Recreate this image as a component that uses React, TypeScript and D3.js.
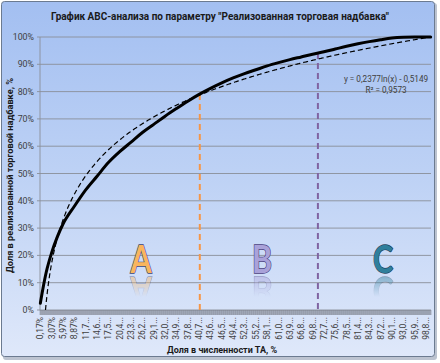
import React from "react";
import * as d3 from "d3";

const W = 440;
const H = 363;

const title = 'График АВС-анализа по параметру "Реализованная торговая надбавка"';
const yTitle = "Доля в реализованной торговой надбавке, %";
const xTitle = "Доля в численности ТА, %";

const nCategories = 586;
const xTickLabels = [
  "0,17%", "3,07%", "5,97%", "8,87%", "11,7...", "14,6...", "17,5...", "20,4...",
  "23,3...", "26,2...", "29,1...", "32,0...", "34,9...", "37,8...", "40,7...", "43,6...",
  "46,5...", "49,4...", "52,3...", "55,2...", "58,1...", "61,0...", "63,9...", "66,8...",
  "69,8...", "72,7...", "75,6...", "78,5...", "81,4...", "84,3...", "87,2...", "90,1...",
  "93,0...", "95,9...", "98,8...",
];
const labelEvery = 17;
const yTicks = [0, 0.1, 0.2, 0.3, 0.4, 0.5, 0.6, 0.7, 0.8, 0.9, 1.0];

// cumulative share at category indices
const curveCats = [1, 5, 10, 18, 26, 35, 52, 69, 86, 103, 120, 137, 154, 171, 188, 205, 222, 239, 256, 273, 290, 307, 324, 341, 358, 375, 392, 409, 426, 443, 460, 477, 494, 511, 528, 545, 562, 579, 586];
const curveShare = [0.025, 0.08, 0.14, 0.21, 0.265, 0.315, 0.38, 0.44, 0.49, 0.54, 0.58, 0.615, 0.65, 0.68, 0.71, 0.738, 0.765, 0.79, 0.812, 0.832, 0.85, 0.866, 0.88, 0.894, 0.906, 0.917, 0.927, 0.937, 0.946, 0.956, 0.966, 0.975, 0.983, 0.99, 0.996, 0.999, 1.0, 1.0, 1.0];

// logarithmic trendline y = a ln(x) + b
const trendA = 0.2377;
const trendB = -0.5149;
const trendLabel = ["y = 0,2377ln(x) - 0,5149", "R² = 0,9573"];

// ABC boundaries (category index)
const boundaryCats = [240, 417];
const boundaryColors = ["#f79646", "#8064a2"];
const groupLetters = ["A", "B", "C"];
const groupCenters = [141, 262, 383];
const groupFill = ["#f9b55e", "#a9a2d9", "#2f7f9c"];
const groupStroke = ["#3a4577", "#4a3f80", "#1f3f5a"];

const FONT = "Roboto, 'Noto Sans', sans-serif";

export default function App() {
  const x = d3.scaleLinear().domain([0.5, nCategories + 0.5]).range([40, 431]);
  const y = d3.scaleLinear().domain([0, 1]).range([310, 37]);

  const interp = (c: number) => {
    const i = d3.bisectLeft(curveCats, c);
    if (i <= 0) return curveShare[0];
    if (i >= curveCats.length) return curveShare[curveShare.length - 1];
    const c0 = curveCats[i - 1], c1 = curveCats[i];
    const t = (c - c0) / (c1 - c0);
    return curveShare[i - 1] + t * (curveShare[i] - curveShare[i - 1]);
  };

  const mainLine = d3
    .line<number>()
    .x((_, i) => x(curveCats[i]))
    .y((d) => y(d))
    .curve(d3.curveMonotoneX)(curveShare) as string;

  const trendStart = Math.exp(-trendB / trendA);
  const trendXs = d3.range(Math.ceil(trendStart * 10) / 10, nCategories + 0.01, 1);
  const trendPath = d3
    .line<number>()
    .x((c) => x(c))
    .y((c) => y(Math.max(0, trendA * Math.log(c) + trendB)))(
      [trendStart, ...trendXs]
    ) as string;

  const ticksX = d3.range(0, nCategories + 1);

  return (
    <svg
      width={W}
      height={H}
      style={{ position: "absolute", left: 0, top: 0, display: "block" }}
      xmlns="http://www.w3.org/2000/svg"
    >
      <defs>
        <linearGradient id="bg" x1="0" y1="0" x2="0" y2="1">
          <stop offset="0" stopColor="#a3bff1" />
          <stop offset="0.5" stopColor="#bed2f5" />
          <stop offset="1" stopColor="#dfe8fa" />
        </linearGradient>
        <linearGradient id="refl" x1="0" y1="0" x2="0" y2="1">
          <stop offset="0" stopColor="#fff" stopOpacity="0.9" />
          <stop offset="1" stopColor="#fff" stopOpacity="0" />
        </linearGradient>
        <mask id="reflMask" maskUnits="userSpaceOnUse" x="0" y="0" width={W} height={H}>
          <rect x="0" y="275" width={W} height="22" fill="url(#refl)" />
        </mask>
      </defs>
      <rect x="0" y="0" width={W} height={H} fill="#ffffff" />
      <rect x="3" y="3" width="434" height="357" rx="3" fill="#8f9bb0" opacity="0.6" />
      <rect x="1.5" y="1.5" width="433" height="355" rx="3" fill="url(#bg)" stroke="#6b7a90" strokeWidth="1" />

      {/* title */}
      <text
        x={220}
        y={20}
        textAnchor="middle"
        fontFamily={FONT}
        fontWeight="bold"
        fontSize="10.5"
        fill="#1a1a1a"
        textLength={338}
        lengthAdjust="spacingAndGlyphs"
      >
        {title}
      </text>

      {/* gridlines */}
      {yTicks.map((t) => (
        <line key={"g" + t} x1={37} x2={431} y1={y(t)} y2={y(t)} stroke="#8a8f99" strokeWidth={0.9} />
      ))}
      <line x1={40} x2={40} y1={y(1)} y2={y(0)} stroke="#8a8f99" strokeWidth={0.9} />
      {yTicks.map((t) => (
        <text key={"yl" + t} x={34} y={y(t)} dy="0.35em" textAnchor="end" fontFamily={FONT} fontSize="8.8" fill="#404040">
          {Math.round(t * 100) + "%"}
        </text>
      ))}

      {/* x ticks */}
      {ticksX.map((c) => (
        <line key={"t" + c} x1={x(c + 0.5)} x2={x(c + 0.5)} y1={310} y2={315} stroke="#757982" strokeWidth={0.5} />
      ))}
      {xTickLabels.map((lab, i) => {
        const c = 1 + i * labelEvery;
        return (
          <text
            key={"xl" + i}
            transform={`translate(${x(c)},317) rotate(-90)`}
            dy="0.35em"
            textAnchor="end"
            fontFamily={FONT}
            fontSize="8.5"
            fill="#404040"
          >
            {lab}
          </text>
        );
      })}

      {/* boundaries */}
      {boundaryCats.map((c, i) => (
        <line
          key={"b" + c}
          x1={x(c)}
          x2={x(c)}
          y1={y(interp(c))}
          y2={y(0)}
          stroke={boundaryColors[i]}
          strokeWidth={2}
          strokeDasharray="6,4"
        />
      ))}

      {/* ABC letters */}
      {groupLetters.map((L, i) => (
        <g key={L}>
          <text
            id={"letter" + L}
            x={groupCenters[i]}
            y={273}
            textAnchor="middle"
            fontFamily="Lato, 'Open Sans', sans-serif"
            fontWeight="bold"
            fontSize="38"
            fill={groupFill[i]}
            stroke={groupStroke[i]}
            strokeWidth={1.4}
            style={{ paintOrder: "stroke" }}
            transform={`translate(${groupCenters[i]},0) scale(0.8,1) translate(${-groupCenters[i]},0)`}
          >
            {L}
          </text>
          <g mask="url(#reflMask)" opacity={0.55}>
            <use href={"#letter" + L} transform={`translate(0,${2 * 273 + 4}) scale(1,-1)`} />
          </g>
        </g>
      ))}

      {/* trendline */}
      <path d={trendPath} fill="none" stroke="#000" strokeWidth={1.2} strokeDasharray="5,3" />
      {/* main curve */}
      <path d={mainLine} fill="none" stroke="#000" strokeWidth={3} strokeLinejoin="round" strokeLinecap="round" />

      {/* trend label */}
      {trendLabel.map((t, i) => (
        <text key={"tl" + i} x={386} y={82 + i * 11} textAnchor="middle" fontFamily={FONT} fontSize="8.2" fill="#404040">
          {t}
        </text>
      ))}

      {/* axis titles */}
      <text
        transform={`translate(10,${(y(0) + y(1)) / 2 + 2}) rotate(-90)`}
        textAnchor="middle"
        dy="0.35em"
        fontFamily={FONT}
        fontWeight="bold"
        fontSize="9.2"
        fill="#1a1a1a"
      >
        {yTitle}
      </text>
      <text x={222} y={353} textAnchor="middle" fontFamily={FONT} fontWeight="bold" fontSize="9" fill="#1a1a1a">
        {xTitle}
      </text>
    </svg>
  );
}
